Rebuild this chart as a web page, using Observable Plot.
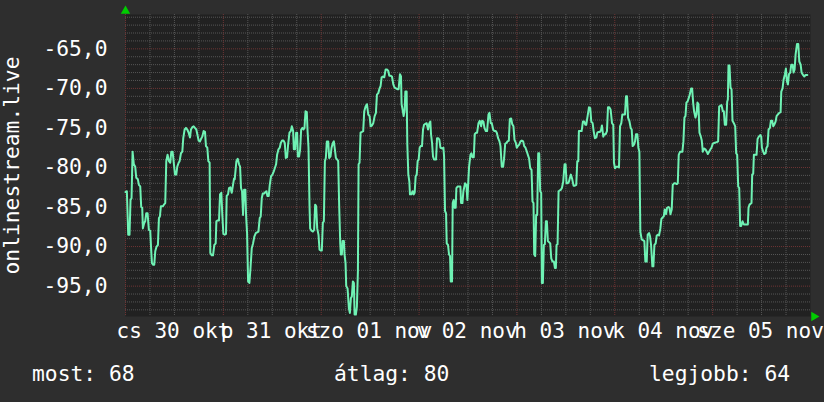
<!DOCTYPE html>
<html><head><meta charset="utf-8">
<script src="https://cdn.jsdelivr.net/npm/d3@7"></script>
<script src="https://cdn.jsdelivr.net/npm/@observablehq/plot@0.6"></script>
<style>
html,body{margin:0;padding:0;background:#2e2e2e;}
#wrap{width:824px;height:402px;position:relative;overflow:hidden;font-family:"DejaVu Sans Mono",monospace;color:#fff;}
#legend{position:relative;height:52px;font-size:21.3px;line-height:21px;}
#legend span{position:absolute;top:13px;white-space:pre;}
</style></head>
<body><div id="wrap"><div id="chart"></div><div id="legend"></div></div>
<script>
// readings: [minutes since 2014-10-30 00:00, value]
const part1 = [[0,-83.1],[20,-83.0],[40,-88.5],[59,-88.5],[74,-84.1],[89,-83.9],[104,-78.0],[123,-79.6],[143,-79.9],[158,-81.3],[182,-81.5],[197,-82.2],[217,-82.4],[231,-85.0],[246,-85.1],[256,-87.7],[276,-87.0],[290,-86.8],[305,-85.8],[325,-85.8],[344,-87.9],[364,-88.0],[379,-90.6],[389,-92.1],[408,-92.3],[423,-92.3],[438,-90.6],[457,-90.0],[477,-89.8],[492,-86.4],[506,-86.2],[521,-84.9],[551,-84.9],[565,-84.7],[585,-84.5],[600,-79.2],[619,-78.4],[639,-79.2],[659,-79.4],[674,-78.0],[693,-78.0],[708,-79.2],[728,-80.9],[747,-80.9],[762,-79.9],[782,-79.4],[796,-79.2],[816,-78.2],[836,-78.0],[850,-76.3],[870,-75.2],[890,-75.0],[909,-75.2],[929,-75.6],[949,-76.2],[963,-75.2],[983,-74.9],[1003,-74.8],[1022,-75.0],[1042,-75.2],[1057,-75.8],[1076,-76.6],[1096,-76.7],[1111,-76.4],[1130,-76.1],[1150,-75.4],[1170,-75.5],[1184,-77.3],[1204,-77.5],[1219,-79.2],[1238,-79.4],[1248,-90.8],[1268,-91.1],[1288,-91.1],[1307,-89.8],[1327,-89.6],[1337,-86.8],[1356,-86.7],[1376,-86.7],[1391,-83.4],[1410,-83.2],[1425,-86.0],[1440,-88.4],[1460,-88.5],[1479,-88.4],[1489,-83.6],[1509,-83.4],[1523,-82.6],[1543,-82.5],[1563,-83.2],[1582,-82.2],[1597,-81.4]];
const part2 = [[1607,-81.5],[1632,-79.2],[1651,-78.9],[1671,-79.6],[1686,-79.9],[1700,-82.6],[1715,-83.0],[1730,-86.0],[1745,-82.8],[1764,-82.8],[1774,-86.0],[1789,-88.3],[1804,-94.4],[1823,-94.6],[1838,-92.9],[1858,-90.2],[1877,-89.6],[1897,-88.7],[1917,-88.3],[1936,-88.2],[1956,-88.1],[1975,-86.4],[1990,-86.2],[2005,-83.9],[2020,-83.3],[2039,-83.3],[2059,-83.1],[2074,-83.0],[2088,-83.6],[2108,-83.6],[2123,-82.2],[2142,-81.1],[2162,-80.9],[2182,-80.5],[2197,-80.1],[2216,-79.6],[2231,-78.4],[2251,-77.7],[2270,-77.5],[2285,-76.9],[2305,-76.6],[2324,-76.6],[2344,-76.9],[2359,-78.8],[2378,-78.7],[2393,-77.1],[2413,-75.6],[2432,-75.4],[2447,-74.8],[2467,-75.4],[2477,-77.7],[2496,-77.7],[2511,-75.6],[2526,-75.6],[2536,-78.6],[2555,-78.6],[2570,-77.7],[2585,-75.2],[2604,-75.0],[2619,-75.2],[2634,-75.0],[2649,-72.9],[2668,-73.0],[2678,-75.2],[2693,-77.5],[2708,-84.9],[2717,-87.7],[2737,-88.0],[2757,-88.1],[2776,-87.9],[2791,-84.7],[2806,-84.9],[2821,-87.7],[2840,-88.5],[2855,-90.4],[2875,-90.5],[2889,-90.5],[2904,-87.0],[2919,-86.8],[2934,-79.2],[2948,-78.8],[2963,-76.7],[2983,-76.7],[2997,-78.8],[3017,-78.6],[3032,-77.5],[3051,-76.9],[3066,-76.7],[3081,-77.7],[3096,-78.8],[3115,-79.0],[3130,-79.2],[3145,-85.1],[3160,-89.6],[3169,-91.0],[3184,-91.0],[3194,-89.3],[3214,-89.3],[3223,-91.0],[3238,-92.1],[3248,-95.0],[3268,-95.3],[3287,-97.8],[3302,-98.4]];
const part3 = [[3317,-96.5],[3331,-96.3],[3346,-94.4],[3361,-94.6],[3371,-98.6],[3390,-98.6],[3405,-97.6],[3420,-93.1],[3430,-79.6],[3444,-79.4],[3459,-75.6],[3479,-75.5],[3498,-75.4],[3513,-72.9],[3533,-72.3],[3553,-72.0],[3572,-73.3],[3592,-73.5],[3607,-74.8],[3626,-74.7],[3646,-74.4],[3666,-73.5],[3685,-73.1],[3700,-70.8],[3720,-70.6],[3739,-70.0],[3754,-69.7],[3769,-68.6],[3788,-68.5],[3808,-68.6],[3828,-67.6],[3847,-67.6],[3867,-67.8],[3882,-68.4],[3901,-68.4],[3921,-68.5],[3941,-69.5],[3960,-69.9],[3980,-70.0],[4000,-70.1],[4019,-70.1],[4039,-68.2],[4054,-68.5],[4063,-72.0],[4078,-72.7],[4093,-73.5],[4108,-72.7],[4118,-70.4],[4137,-70.4],[4147,-77.1],[4162,-80.9],[4177,-81.8],[4186,-83.4],[4206,-83.4],[4226,-83.0],[4240,-83.4],[4255,-83.2],[4270,-81.1],[4285,-80.9],[4299,-79.2],[4314,-79.0],[4329,-77.5],[4344,-77.3],[4363,-77.3],[4378,-75.2],[4393,-74.6],[4412,-74.5],[4432,-74.4],[4452,-75.2],[4471,-74.4],[4486,-74.2],[4496,-75.8],[4511,-76.9],[4525,-78.6],[4540,-79.0],[4570,-79.0],[4584,-76.3],[4604,-76.3],[4619,-76.5],[4634,-77.5],[4663,-77.6],[4678,-77.5],[4688,-78.6],[4702,-85.5],[4717,-85.8],[4727,-89.6],[4746,-89.8],[4761,-91.0],[4776,-91.2],[4786,-94.4],[4805,-94.4],[4815,-84.5],[4830,-84.1],[4845,-85.1],[4859,-85.1],[4869,-82.6],[4889,-82.4],[4928,-82.4],[4938,-84.5],[4958,-84.5],[4972,-83.0],[4997,-82.0]];
const part4 = [[5017,-82.2],[5031,-84.1],[5046,-81.5],[5056,-79.9],[5076,-78.4],[5090,-78.2],[5105,-78.7],[5125,-78.7],[5139,-75.8],[5159,-75.6],[5174,-75.6],[5194,-74.4],[5213,-74.1],[5233,-74.8],[5248,-74.1],[5267,-74.2],[5282,-75.0],[5302,-75.4],[5321,-75.4],[5341,-73.3],[5356,-73.1],[5375,-74.4],[5390,-74.4],[5410,-75.2],[5429,-75.4],[5449,-75.4],[5464,-75.6],[5483,-76.3],[5503,-76.7],[5518,-77.3],[5537,-79.9],[5557,-79.9],[5572,-78.8],[5587,-77.0],[5606,-76.9],[5621,-76.7],[5641,-76.6],[5655,-73.9],[5675,-73.8],[5690,-74.5],[5709,-74.8],[5724,-76.5],[5744,-76.9],[5758,-77.5],[5773,-77.3],[5793,-77.1],[5813,-76.7],[5832,-76.6],[5852,-76.7],[5867,-77.3],[5886,-77.5],[5906,-78.0],[5921,-78.4],[5940,-78.9],[5955,-80.1],[5975,-80.3],[5989,-84.3],[6004,-84.5],[6014,-91.0],[6029,-91.2],[6043,-86.0],[6058,-86.0],[6073,-78.2],[6088,-78.2],[6102,-83.0],[6117,-83.2],[6127,-94.6],[6142,-94.6],[6156,-89.8],[6171,-89.7],[6186,-86.8],[6201,-86.8],[6215,-89.3],[6250,-89.6],[6265,-91.5],[6284,-91.9],[6304,-91.9],[6319,-92.7],[6333,-92.7],[6343,-89.8],[6358,-89.7],[6373,-83.0],[6407,-82.8],[6422,-82.6],[6441,-81.8],[6461,-79.6],[6476,-79.6],[6490,-82.0],[6510,-82.0],[6525,-81.8],[6540,-81.3],[6554,-80.9],[6574,-81.5],[6594,-82.3],[6613,-82.3],[6633,-82.2],[6648,-79.2],[6663,-79.2],[6672,-75.4],[6692,-75.4]];
const part5 = [[6712,-75.4],[6731,-74.2],[6751,-74.2],[6766,-74.6],[6780,-74.6],[6800,-73.5],[6820,-72.4],[6839,-72.5],[6854,-74.2],[6874,-74.4],[6889,-75.4],[6908,-76.3],[6928,-76.2],[6943,-75.6],[6962,-75.5],[6982,-75.5],[6997,-75.3],[7011,-74.7],[7031,-76.1],[7046,-75.8],[7065,-75.8],[7085,-75.4],[7100,-72.4],[7119,-72.4],[7139,-72.7],[7159,-74.4],[7178,-74.6],[7188,-79.4],[7203,-80.1],[7223,-79.9],[7242,-79.9],[7262,-80.0],[7277,-74.8],[7296,-74.4],[7311,-73.3],[7350,-73.3],[7365,-71.0],[7380,-71.0],[7395,-73.7],[7414,-74.1],[7434,-75.0],[7449,-75.2],[7463,-77.3],[7483,-77.1],[7498,-76.7],[7512,-75.8],[7532,-75.8],[7547,-77.5],[7562,-78.0],[7576,-88.1],[7596,-89.1],[7635,-89.3],[7650,-91.9],[7670,-91.9],[7684,-88.5],[7704,-88.3],[7719,-88.7],[7734,-89.8],[7753,-92.5],[7768,-92.5],[7783,-89.8],[7802,-89.6],[7817,-88.6],[7837,-88.5],[7851,-88.6],[7871,-87.7],[7886,-86.5],[7905,-86.3],[7920,-86.2],[7935,-85.3],[7955,-85.9],[7969,-85.1],[7989,-85.0],[8004,-85.1],[8019,-85.9],[8038,-85.3],[8053,-82.2],[8073,-82.0],[8092,-82.0],[8112,-82.1],[8127,-82.0],[8141,-78.4],[8161,-78.0],[8195,-78.0],[8210,-76.7],[8225,-73.7],[8240,-73.5],[8254,-71.8],[8274,-71.6],[8289,-71.2],[8303,-70.8],[8323,-70.0],[8338,-70.0],[8353,-71.8],[8367,-72.9],[8387,-73.7]];
const part6 = [[8402,-73.3],[8416,-71.8],[8431,-72.0],[8446,-75.6],[8466,-76.1],[8480,-76.6],[8495,-78.0],[8515,-77.6],[8534,-77.7],[8554,-78.0],[8569,-78.3],[8588,-78.0],[8608,-77.7],[8623,-77.5],[8642,-77.0],[8662,-76.9],[8701,-76.8],[8721,-76.7],[8736,-72.3],[8770,-72.1],[8790,-72.9],[8805,-72.9],[8819,-74.6],[8839,-74.6],[8854,-71.7],[8864,-71.4],[8873,-67.1],[8888,-67.1],[8903,-69.9],[8918,-70.1],[8932,-74.1],[8952,-74.4],[8972,-74.8],[8986,-78.2],[9001,-78.4],[9016,-82.4],[9031,-82.6],[9045,-87.4],[9060,-87.4],[9080,-86.8],[9099,-87.2],[9158,-87.2],[9168,-85.1],[9183,-84.7],[9212,-84.5],[9222,-80.9],[9237,-80.8],[9247,-78.4],[9286,-78.4],[9301,-76.4],[9320,-76.1],[9340,-75.9],[9355,-76.1],[9365,-77.5],[9384,-78.0],[9399,-78.3],[9419,-78.2],[9433,-77.5],[9448,-77.3],[9463,-75.2],[9483,-75.0],[9497,-74.1],[9517,-74.1],[9532,-74.8],[9546,-74.6],[9566,-74.2],[9581,-73.5],[9600,-73.3],[9620,-73.1],[9640,-73.0],[9650,-70.4],[9669,-70.0],[9684,-68.9],[9704,-68.2],[9718,-67.5],[9733,-69.1],[9748,-69.5],[9763,-68.2],[9782,-68.0],[9797,-67.0],[9817,-67.0],[9831,-68.0],[9846,-67.6],[9861,-65.7],[9881,-64.4],[9900,-64.4],[9915,-66.6],[9935,-67.0],[9949,-68.0],[9969,-68.3],[9989,-68.5],[10008,-68.3],[10033,-68.3]];

const dayLabels = ["cs 30 okt", "p 31 okt", "szo 01 nov", "v 02 nov", "h 03 nov", "k 04 nov", "sze 05 nov"];
const yTickValues = [-95, -90, -85, -80, -75, -70, -65];
const yLabel = "onlinestream.live";
const legendLabels = ["most", "átlag", "legjobb"];
const legendValues = [68, 80, 64];

const start = Date.UTC(2014, 9, 30);
const end = Date.UTC(2014, 10, 6);
const yDomain = [-98.84, -60.66];
const data = [...part1, ...part2, ...part3, ...part4, ...part5, ...part6]
  .map(([m, v]) => ({time: new Date(start + m * 60000), value: v}));

const dayStarts = d3.utcDay.range(new Date(start), new Date(end));
const dayNoons = dayLabels.map((_, i) => new Date(start + i * 86400000 + 43200000));
const sixHours = d3.utcHour.every(6).range(new Date(start), new Date(end)).filter(d => d.getUTCHours() !== 0);
const minorY = d3.range(-98, -60).filter(v => v % 5 !== 0);
const majorY = d3.range(-95, -60, 5);

const gridMinor = {stroke: "#565656", strokeWidth: 1, strokeDasharray: "1,1"};
const gridMajor = {stroke: "#6e3434", strokeWidth: 1, strokeDasharray: "1,1"};

const chart = Plot.plot({
  width: 824, height: 350,
  marginLeft: 125, marginRight: 14, marginTop: 14, marginBottom: 34,
  style: {background: "transparent", color: "#fff", fontFamily: "DejaVu Sans Mono", fontSize: "21.3px", overflow: "visible"},
  x: {type: "utc", domain: [new Date(start), new Date(end)], axis: null},
  y: {domain: yDomain, axis: null},
  marks: [
    Plot.frame({fill: "#212121", stroke: null}),
    Plot.ruleY(minorY, gridMinor),
    Plot.ruleX(sixHours, gridMinor),
    Plot.ruleY(majorY, gridMajor),
    Plot.ruleX(dayStarts, gridMajor),
    Plot.line(data, {x: "time", y: "value", stroke: "#6ff2b4", strokeWidth: 2}),
    Plot.axisY(yTickValues, {tickSize: 0, tickPadding: 18, tickFormat: d => d.toFixed(1).replace(".", ","), label: null}),
    Plot.axisX(dayNoons, {tickSize: 0, tickPadding: 7, fontSize: 21, dx: -1, tickFormat: d => dayLabels[Math.floor((d - start) / 86400000)], label: null}),
    Plot.text([yLabel], {text: d => d, frameAnchor: "left", rotate: -90, dx: -113, textAnchor: "middle", fill: "#fff"}),
    Plot.dot([{t: new Date(start), v: yDomain[1]}], {x: "t", y: "v", symbol: "triangle", r: 3.5, fill: "#00cc00", stroke: null, dy: -3.5}),
    Plot.dot([{t: new Date(end), v: yDomain[0]}], {x: "t", y: "v", symbol: "triangle", r: 3.5, fill: "#00cc00", stroke: null, dx: 3.5, rotate: 90})
  ]
});
document.getElementById("chart").appendChild(chart);

const lefts = [32, 334, 649];
const legend = document.getElementById("legend");
legendLabels.forEach((l, i) => {
  const s = document.createElement("span");
  s.textContent = `${l}: ${legendValues[i]}`;
  s.style.left = lefts[i] + "px";
  legend.appendChild(s);
});
</script>
</body></html>
